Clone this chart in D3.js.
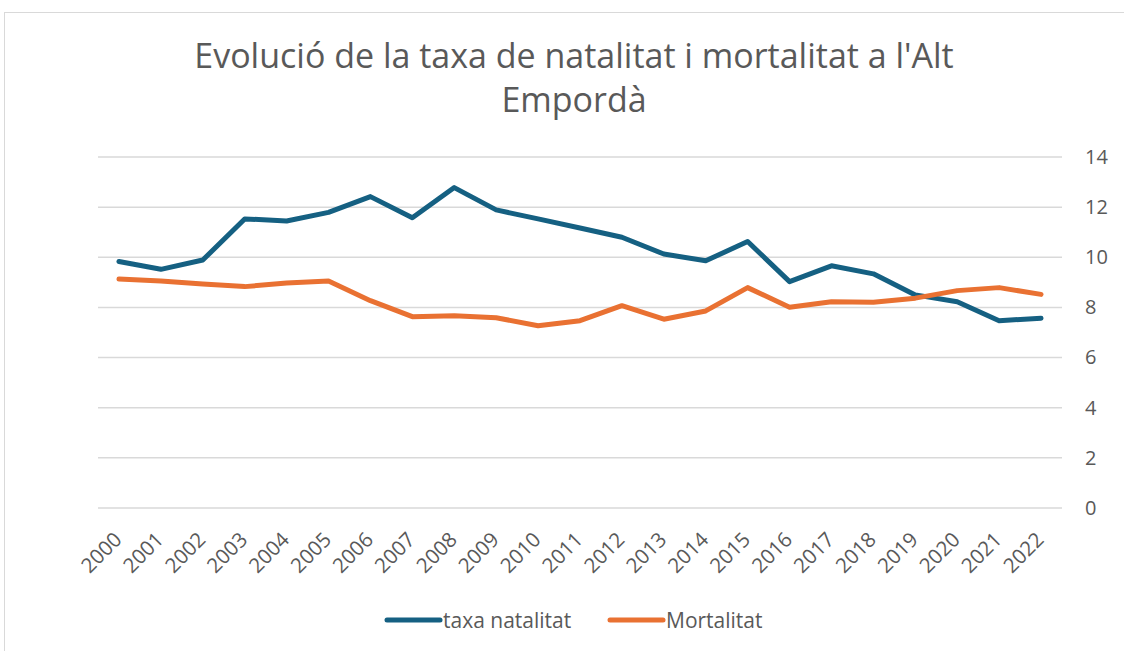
<!DOCTYPE html>
<meta charset="utf-8">
<head>
  <script src="https://d3js.org/d3.v7.min.js"></script>
</head>
<style>
  body { margin: 0; background: #fff; }
  text { font-family: "Open Sans", "Noto Sans", sans-serif; fill: #595959; }
  .grid line { stroke: #d9d9d9; stroke-width: 1.5; }
</style>
<body>
<script>
  // dades
  var years = ["2000","2001","2002","2003","2004","2005","2006","2007","2008","2009","2010",
    "2011","2012","2013","2014","2015","2016","2017","2018","2019","2020","2021","2022"];
  var natalitat = [9.83, 9.52, 9.89, 11.53, 11.45, 11.79, 12.42, 11.58, 12.78, 11.89, 11.53,
    11.17, 10.80, 10.13, 9.86, 10.63, 9.03, 9.66, 9.34, 8.50, 8.23, 7.47, 7.57];
  var mortalitat = [9.13, 9.05, 8.93, 8.83, 8.97, 9.05, 8.27, 7.63, 7.67, 7.59, 7.27,
    7.47, 8.07, 7.53, 7.86, 8.79, 8.01, 8.23, 8.21, 8.37, 8.67, 8.79, 8.52];
  var yTicks = [0, 2, 4, 6, 8, 10, 12, 14];
  var series = [
    { name: "taxa natalitat", values: natalitat, color: "#156082" },
    { name: "Mortalitat", values: mortalitat, color: "#E97132" }
  ];

  var W = 1124, H = 651;
  var svg = d3.select("body").append("svg")
    .attr("width", W).attr("height", H);

  // marc del gràfic
  svg.append("rect")
    .attr("x", 4.5).attr("y", 12.5)
    .attr("width", W + 10).attr("height", H)
    .attr("fill", "none").attr("stroke", "#d9d9d9");

  // títol
  var title = svg.append("text")
    .attr("text-anchor", "middle")
    .attr("font-size", 34);
  title.append("tspan").attr("x", 574).attr("y", 68)
    .text("Evolució de la taxa de natalitat i mortalitat a l'Alt");
  title.append("tspan").attr("x", 574).attr("y", 112)
    .text("Empordà");

  var mLeft = 98, mRight = 1062, mTop = 157, mBottom = 508;

  var x = d3.scaleBand().domain(years).range([mLeft, mRight]);
  var y = d3.scaleLinear().domain([0, 14]).range([mBottom, mTop]);

  // línies de quadrícula
  svg.append("g").attr("class", "grid")
    .selectAll("line").data(yTicks).enter().append("line")
    .attr("x1", mLeft).attr("x2", mRight)
    .attr("y1", function (d) { return y(d); })
    .attr("y2", function (d) { return y(d); });

  // eix Y a la dreta
  var yAxis = svg.append("g")
    .attr("transform", "translate(" + mRight + ",0)")
    .call(d3.axisRight(y).tickValues(yTicks).tickSize(0).tickPadding(23));
  yAxis.select(".domain").remove();
  yAxis.selectAll("text").attr("font-size", 20).attr("fill", "#595959")
    .attr("font-family", "Open Sans, Noto Sans, sans-serif");

  // eix X
  var xAxis = svg.append("g")
    .attr("transform", "translate(0," + mBottom + ")")
    .call(d3.axisBottom(x).tickSize(0).tickPadding(0));
  xAxis.select(".domain").remove();
  xAxis.selectAll("text")
    .attr("font-size", 20.5).attr("fill", "#595959")
    .attr("font-family", "Open Sans, Noto Sans, sans-serif")
    .attr("text-anchor", "end")
    .attr("dy", null)
    .attr("y", 0)
    .attr("transform", "translate(4,33) rotate(-45)");

  // sèries
  var line = d3.line()
    .x(function (d, i) { return x(years[i]) + x.bandwidth() / 2; })
    .y(function (d) { return y(d); });

  svg.selectAll(".serie").data(series).enter().append("path")
    .attr("class", "serie")
    .attr("d", function (s) { return line(s.values); })
    .attr("fill", "none")
    .attr("stroke", function (s) { return s.color; })
    .attr("stroke-width", 5)
    .attr("stroke-linejoin", "round")
    .attr("stroke-linecap", "round");

  // llegenda
  var legendX = [385, 608];
  var lg = svg.selectAll(".lg").data(series).enter().append("g")
    .attr("transform", function (s, i) { return "translate(" + legendX[i] + ",620)"; });
  lg.append("line").attr("x1", 2).attr("x2", 55)
    .attr("stroke", function (s) { return s.color; })
    .attr("stroke-width", 5).attr("stroke-linecap", "round");
  lg.append("text").attr("x", 58).attr("y", 8)
    .attr("font-size", 21).text(function (s) { return s.name; });
</script>
</body>
